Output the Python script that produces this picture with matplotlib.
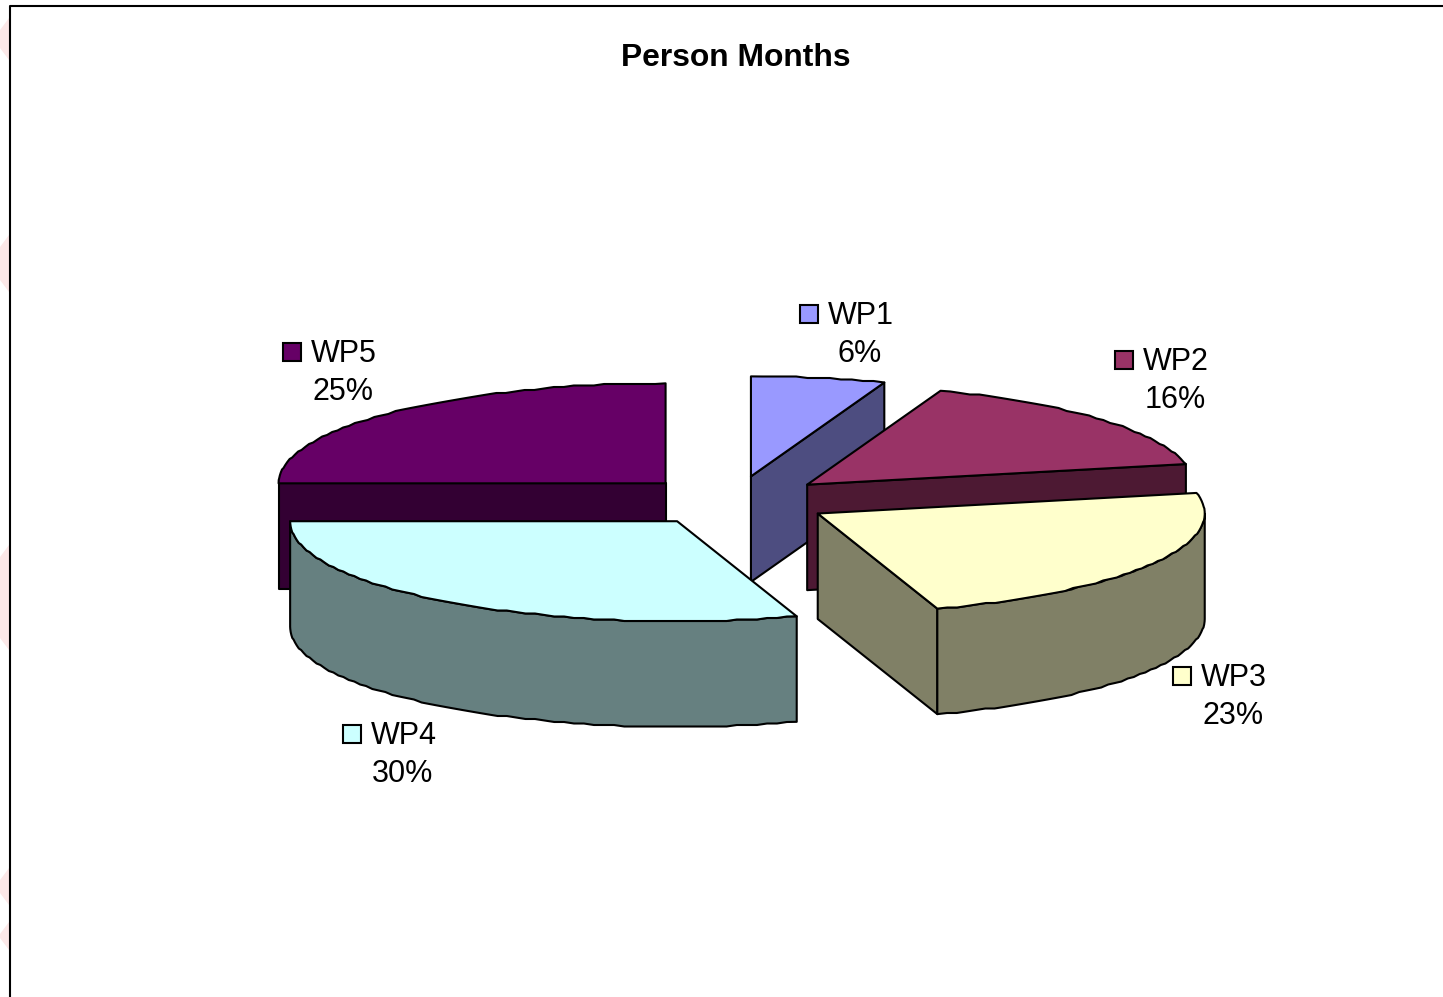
#!/usr/bin/env python
"""plot.py - exploded 3D look pie, Person Months"""
import numpy as np
import matplotlib
matplotlib.use("Agg")
import matplotlib.pyplot as plt
from matplotlib.patches import Polygon, Rectangle

labels = ["WP1", "WP2", "WP3", "WP4", "WP5"]
# percentages, the chart rounds them in the labels
values = [5.6, 16.1, 23.3, 30.0, 25.0]
top_colors = ["#9999FF", "#993366", "#FFFFCC", "#CCFFFF", "#660066"]
side_colors = ["#4D4D80", "#4D1933", "#808066", "#668080", "#330033"]
draw_order = [4, 0, 1, 2, 3]
label_pos = [(860, 314), (1175, 360), (1233, 676), (403, 734), (343, 352)]

# faint pink marks left of the frame, as (y top, y bottom)
smudges_y = [(18, 60), (235, 292), (545, 650), (868, 905), (922, 950)]

plt.rcParams["font.family"] = ["Liberation Sans", "DejaVu Sans"]

CX, CY = 734, 501
RX, RY = 387, 100
DEPTH = 105.5
EXPLODE = 0.25
LW = 1.5


def arc(cx, cy, a0, a1):
    # angles in degrees, clockwise from 12 o'clock
    n = max(int(abs(a1 - a0) / 1.5), 2)
    t = np.radians(np.linspace(a0, a1, n))
    pts = np.column_stack([cx + RX * np.sin(t), cy - RY * np.cos(t)])
    # the original curve is a rough polyline, snap the inner points a bit
    pts[1:-1, 1] = np.round(pts[1:-1, 1] / 1.5) * 1.5
    return pts


def face(ax, pts, color, z):
    ax.add_patch(Polygon(pts, closed=True, facecolor=color, edgecolor="black",
                         linewidth=LW, joinstyle="round", zorder=z))


fig = plt.figure(figsize=(14.43, 9.97), dpi=100)
ax = fig.add_axes([0, 0, 1, 1])
ax.set_xlim(0, 1443)
ax.set_ylim(997, 0)
ax.axis("off")

for y0, y1 in smudges_y:
    ax.add_patch(Polygon([(0, y0 + 12), (9, y0), (9, y1), (0, y1 - 12)],
                         closed=True, facecolor="#FCE8E8", edgecolor="none", zorder=0))

# chart frame, only top and left are inside the crop
ax.plot([10, 10, 1443], [997, 6.5, 6.5], color="black", lw=1.5, zorder=1)

edges = np.cumsum([0] + values) / sum(values) * 360

for n, i in enumerate(draw_order):
    a0, a1 = edges[i], edges[i + 1]
    mid = np.radians((a0 + a1) / 2)
    cx = CX + EXPLODE * RX * np.sin(mid)
    cy = CY - EXPLODE * RY * np.cos(mid)
    z = 2 + n
    depth = np.array([0, DEPTH])

    # cut faces that look towards the viewer
    if np.sin(np.radians(a1)) > 1e-6:
        p = arc(cx, cy, a1, a1)[0]
        face(ax, [(cx, cy), p, p + depth, (cx, cy + DEPTH)], side_colors[i], z)
    if np.sin(np.radians(a0)) < -1e-6:
        p = arc(cx, cy, a0, a0)[0]
        face(ax, [(cx, cy), p, p + depth, (cx, cy + DEPTH)], side_colors[i], z)

    # outer wall, the front half of the ellipse only
    w0, w1 = max(a0, 90), min(a1, 270)
    if w1 > w0:
        rim = arc(cx, cy, w0, w1)
        face(ax, np.vstack([rim, (rim + depth)[::-1]]), side_colors[i], z)

    face(ax, np.vstack([[(cx, cy)], arc(cx, cy, a0, a1)]), top_colors[i], z)

for name, v, col, (x, y) in zip(labels, values, top_colors, label_pos):
    ax.text(x + 0.5, y + 2, name, fontsize=22, ha="center", va="center", color="black", zorder=10)
    ax.text(x, y + 40, f"{v:.0f}%", fontsize=22, ha="center", va="center", color="black", zorder=10)
    ax.add_patch(Rectangle((x - 60, y - 9), 18, 18, facecolor=col, edgecolor="black",
                           linewidth=1.5, zorder=10))

ax.text(736, 57.5, "Person Months", fontsize=22.9, fontweight="bold", ha="center", va="center")

plt.savefig("out.png", dpi=100)
